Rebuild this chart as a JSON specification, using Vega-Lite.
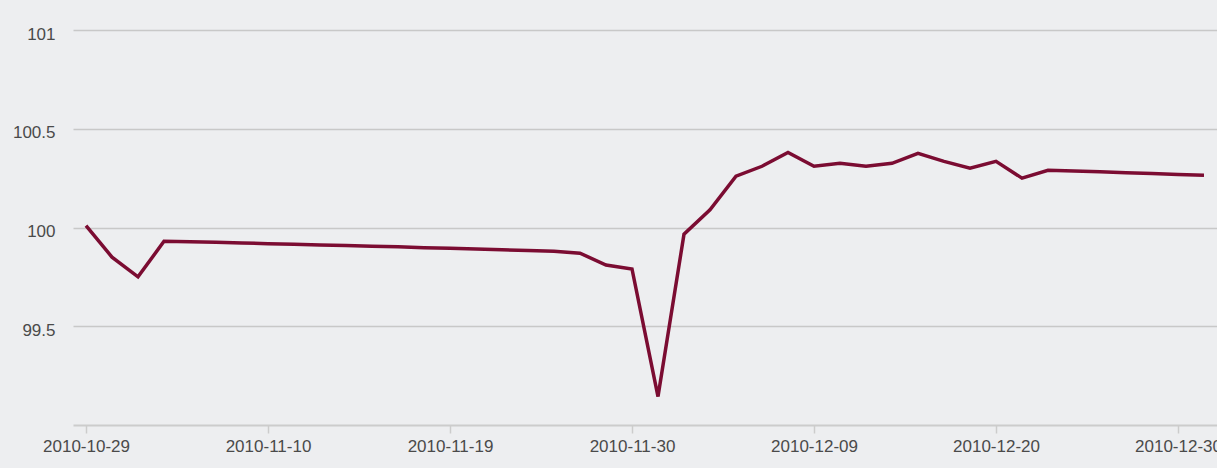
{
  "$schema": "https://vega.github.io/schema/vega-lite/v6.json",
  "width": 1144,
  "height": 395,
  "autosize": {"type": "none"},
  "padding": {"left": 73, "top": 30, "right": 0, "bottom": 43},
  "background": "#edeef0",
  "config": {"view": {"stroke": null}},
  "data": {"values": [
    {"date": "2010-10-29", "value": 100.01},
    {"date": "2010-11-01", "value": 99.85},
    {"date": "2010-11-02", "value": 99.75},
    {"date": "2010-11-04", "value": 99.93},
    {"date": "2010-11-05", "value": 99.928},
    {"date": "2010-11-08", "value": 99.925},
    {"date": "2010-11-09", "value": 99.922},
    {"date": "2010-11-10", "value": 99.918},
    {"date": "2010-11-11", "value": 99.915},
    {"date": "2010-11-12", "value": 99.912},
    {"date": "2010-11-15", "value": 99.909},
    {"date": "2010-11-16", "value": 99.905},
    {"date": "2010-11-17", "value": 99.902},
    {"date": "2010-11-18", "value": 99.898},
    {"date": "2010-11-19", "value": 99.895},
    {"date": "2010-11-22", "value": 99.891},
    {"date": "2010-11-23", "value": 99.887},
    {"date": "2010-11-24", "value": 99.884},
    {"date": "2010-11-25", "value": 99.88},
    {"date": "2010-11-26", "value": 99.87},
    {"date": "2010-11-29", "value": 99.81},
    {"date": "2010-11-30", "value": 99.79},
    {"date": "2010-12-01", "value": 99.144},
    {"date": "2010-12-02", "value": 99.966},
    {"date": "2010-12-03", "value": 100.09},
    {"date": "2010-12-06", "value": 100.26},
    {"date": "2010-12-07", "value": 100.31},
    {"date": "2010-12-08", "value": 100.38},
    {"date": "2010-12-09", "value": 100.31},
    {"date": "2010-12-10", "value": 100.325},
    {"date": "2010-12-13", "value": 100.31},
    {"date": "2010-12-14", "value": 100.325},
    {"date": "2010-12-15", "value": 100.375},
    {"date": "2010-12-16", "value": 100.335},
    {"date": "2010-12-17", "value": 100.3},
    {"date": "2010-12-20", "value": 100.335},
    {"date": "2010-12-21", "value": 100.25},
    {"date": "2010-12-22", "value": 100.29},
    {"date": "2010-12-23", "value": 100.286},
    {"date": "2010-12-27", "value": 100.282},
    {"date": "2010-12-28", "value": 100.277},
    {"date": "2010-12-29", "value": 100.273},
    {"date": "2010-12-30", "value": 100.268},
    {"date": "2010-12-31", "value": 100.264}
  ]},
  "mark": {"type": "line", "color": "#7b0c32", "strokeWidth": 3.5, "clip": false},
  "encoding": {
    "x": {
      "field": "date", "type": "ordinal", "sort": null,
      "scale": {"type": "point", "padding": 0.5},
      "axis": {
        "title": null,
        "values": ["2010-10-29", "2010-11-10", "2010-11-19", "2010-11-30", "2010-12-09", "2010-12-20", "2010-12-30"],
        "labelAngle": 0,
        "labelFont": "Liberation Sans", "labelFontSize": 17, "labelColor": "#4a4a4a",
        "labelPadding": 5,
        "domainColor": "#cccccc", "domainWidth": 2,
        "tickColor": "#cccccc", "tickSize": 8, "tickWidth": 1.5,
        "grid": false
      }
    },
    "y": {
      "field": "value", "type": "quantitative",
      "scale": {"domain": [99, 101], "nice": false, "zero": false},
      "axis": {
        "title": null,
        "values": [99.5, 100, 100.5, 101],
        "format": "~g",
        "ticks": false, "domain": false,
        "labelFont": "Liberation Sans", "labelFontSize": 17, "labelColor": "#4a4a4a",
        "labelPadding": 18, "labelOffset": 4,
        "gridColor": "#c8c8c8", "gridWidth": 1.5
      }
    }
  }
}
